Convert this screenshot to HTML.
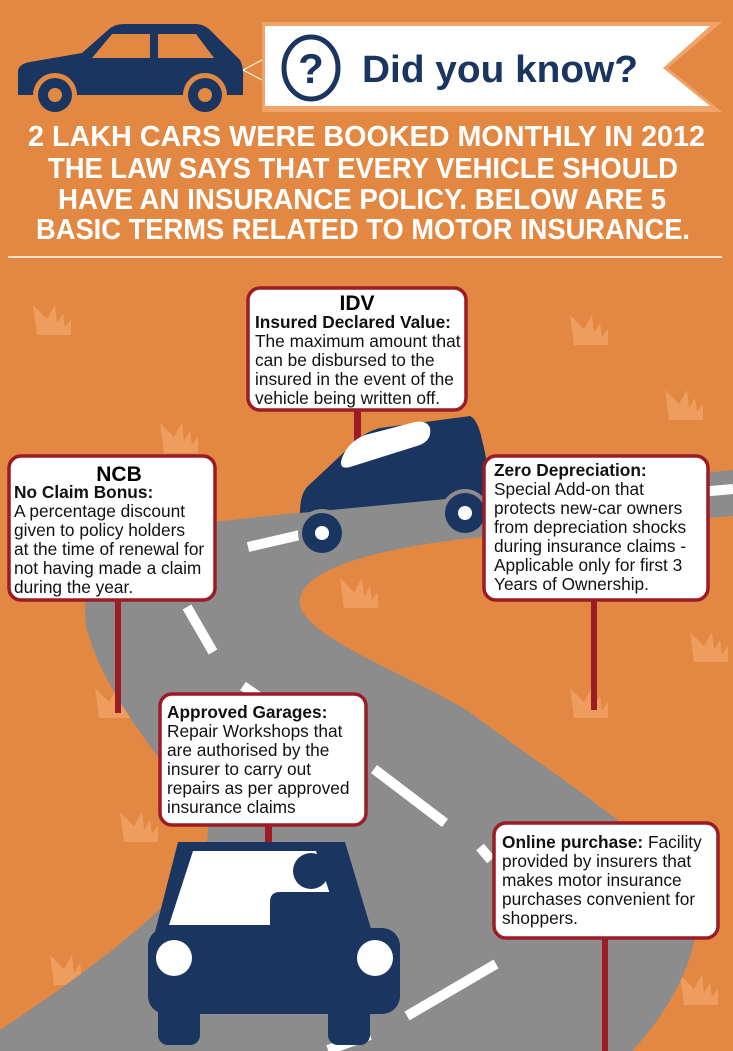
<!DOCTYPE html>
<html><head><meta charset="utf-8"><style>
html,body{margin:0;padding:0;background:#e38843}
svg{display:block}
.t{font-family:"Liberation Sans",sans-serif;font-size:17.3px;fill:#111}
.b{font-weight:bold}
</style></head><body>
<svg width="733" height="1051" viewBox="0 0 733 1051" xmlns="http://www.w3.org/2000/svg">
<defs>
<path id="tuft" d="M0,0 L14,14 L22,0 L24,18 L30,8 L32,22 L38,14 L38,30 L4,30 Z" fill="#ee9d5f"/>
</defs>
<rect width="733" height="1051" fill="#e38843"/>
<use href="#tuft" x="33" y="305"/>
<use href="#tuft" x="160" y="423"/>
<use href="#tuft" x="570" y="315"/>
<use href="#tuft" x="665" y="390"/>
<use href="#tuft" x="340" y="578"/>
<use href="#tuft" x="690" y="632"/>
<use href="#tuft" x="95" y="688"/>
<use href="#tuft" x="570" y="688"/>
<use href="#tuft" x="120" y="812"/>
<use href="#tuft" x="50" y="955"/>
<use href="#tuft" x="680" y="975"/>
<path d="M733,470 L560,488 C420,500 300,512 215,522 C110,540 70,580 90,640 C110,700 160,760 200,810 C240,860 120,950 0,1030 L0,1051 L632,1051 C680,1000 710,930 690,895 C660,840 560,780 468,711 C400,670 310,640 300,605 C295,565 400,545 482,537 L733,516 Z" fill="#8c8c8c"/>
<g stroke="#fff" stroke-width="10" fill="none">
<line x1="700" y1="492" x2="733" y2="489"/>
<line x1="248" y1="547" x2="300" y2="535"/>
<line x1="187" y1="607" x2="213" y2="652"/>
<line x1="243" y1="686" x2="262" y2="699"/>
<line x1="374" y1="769" x2="445" y2="823"/>
<line x1="480" y1="847" x2="491" y2="860"/>
<line x1="407" y1="1016" x2="496" y2="964"/>
<line x1="328" y1="1050" x2="370" y2="1035"/>
</g>
<g fill="#1a355f">
<path d="M18,72 Q18,64 30,62 L82,53 L108,30 Q114,24 125,24 L195,24 Q205,24 212,32 L240,60 Q244,67 243,80 L243,95 L18,95 Z"/>
</g>
<path d="M92,58 L112,34 L150,34 L150,58 Z M158,34 L196,34 L214,58 L158,58 Z" fill="#e38843"/>
<circle cx="55" cy="95" r="22" fill="#e38843"/><circle cx="55" cy="95" r="17" fill="#1a355f"/><circle cx="55" cy="95" r="7" fill="#e38843"/>
<circle cx="205" cy="95" r="22" fill="#e38843"/><circle cx="205" cy="95" r="17" fill="#1a355f"/><circle cx="205" cy="95" r="7" fill="#e38843"/>
<path d="M243,70 L262,60 M243,70 L262,80" stroke="#fff" stroke-width="1"/>
<path d="M262,22 L722,22 L668,68 L722,112 L262,112 Z" fill="#f0a46a"/>
<path d="M265,26 L710,26 L663,68 L710,106 L265,106 Z" fill="#fff"/>
<ellipse cx="311" cy="68" rx="27" ry="31" fill="none" stroke="#1a355f" stroke-width="5"/>
<text x="311" y="83" text-anchor="middle" font-family="Liberation Sans" font-weight="bold" font-size="42" fill="#1a355f">?</text>
<text x="362" y="82" font-family="Liberation Sans" font-weight="bold" font-size="38" fill="#1a355f" textLength="276" lengthAdjust="spacingAndGlyphs">Did you know?</text>
<g font-family="Liberation Sans" font-weight="bold" font-size="29" fill="#fff">
<text x="28" y="146" textLength="677" lengthAdjust="spacingAndGlyphs">2 LAKH CARS WERE BOOKED MONTHLY IN 2012</text>
<text x="48" y="178" textLength="630" lengthAdjust="spacingAndGlyphs">THE LAW SAYS THAT EVERY VEHICLE SHOULD</text>
<text x="58" y="209" textLength="608" lengthAdjust="spacingAndGlyphs">HAVE AN INSURANCE POLICY. BELOW ARE 5</text>
<text x="36" y="239" textLength="654" lengthAdjust="spacingAndGlyphs">BASIC TERMS RELATED TO MOTOR INSURANCE.</text>
</g>
<line x1="8" y1="257" x2="722" y2="257" stroke="#fff" stroke-width="1.5"/>
<g fill="#9b1c24">
<rect x="354" y="408" width="7" height="40"/>
<rect x="115" y="598" width="6" height="115"/>
<rect x="591" y="598" width="6" height="112"/>
<rect x="265" y="823" width="7" height="25"/>
<rect x="602" y="936" width="6" height="115"/>
</g>
<path d="M470,416 L380,428 Q365,432 355,442 L307,487 Q300,495 300,513 L488,495 Q490,470 482,440 Q478,420 470,416 Z" fill="#1a355f"/>
<path d="M342,458 Q338,470 350,467 L420,445 Q432,440 430,428 Q427,420 415,422 L365,435 Q348,442 342,458 Z" fill="#fff"/>
<circle cx="322" cy="533" r="24" fill="#8c8c8c"/><circle cx="322" cy="533" r="20" fill="#1a355f"/><circle cx="322" cy="533" r="7" fill="#fff"/>
<circle cx="465" cy="513" r="24" fill="#8c8c8c"/><circle cx="465" cy="513" r="20" fill="#1a355f"/><circle cx="465" cy="513" r="7" fill="#fff"/>
<g fill="#1a355f">
<path d="M178,842 L345,842 L372,932 L155,932 Z"/>
<rect x="148" y="928" width="252" height="86" rx="18"/>
<rect x="158" y="990" width="42" height="55" rx="10"/>
<rect x="328" y="990" width="42" height="55" rx="10"/>
</g>
<path d="M193,851 L316,851 L340,925 L169,925 Z" fill="#fff"/>
<circle cx="311" cy="871" r="18" fill="#1a355f"/>
<path d="M270,925 L270,902 Q270,892 280,892 L342,892 Q352,892 352,902 L352,925 Z" fill="#1a355f"/>
<circle cx="174" cy="958" r="18" fill="#fff"/><circle cx="375" cy="958" r="18" fill="#fff"/>
<g fill="#fff" stroke="#9b1c24" stroke-width="3.5">
<rect x="248" y="288" width="218" height="122" rx="12"/>
<rect x="9" y="456" width="206" height="144" rx="12"/>
<rect x="484" y="456" width="224" height="144" rx="12"/>
<rect x="160" y="694" width="206" height="131" rx="12"/>
<rect x="494" y="823" width="224" height="115" rx="12"/>
</g>
<text x="357" y="310" text-anchor="middle" font-family="Liberation Sans" font-weight="bold" font-size="21">IDV</text>
<text class="t b" x="255" y="328">Insured Declared Value:</text>
<text class="t" x="255" y="347">The maximum amount that</text>
<text class="t" x="255" y="366">can be disbursed to the</text>
<text class="t" x="255" y="385">insured in the event of the</text>
<text class="t" x="255" y="404">vehicle being written off.</text>

<text x="119" y="481" text-anchor="middle" font-family="Liberation Sans" font-weight="bold" font-size="21">NCB</text>
<text class="t b" x="14" y="498">No Claim Bonus:</text>
<text class="t" x="14" y="517">A percentage discount</text>
<text class="t" x="14" y="536">given to policy holders</text>
<text class="t" x="14" y="555">at the time of renewal for</text>
<text class="t" x="14" y="574">not having made a claim</text>
<text class="t" x="14" y="593">during the year.</text>

<text class="t b" x="494" y="476">Zero Depreciation:</text>
<text class="t" x="494" y="495">Special Add-on that</text>
<text class="t" x="494" y="514">protects new-car owners</text>
<text class="t" x="494" y="533">from depreciation shocks</text>
<text class="t" x="494" y="552">during insurance claims -</text>
<text class="t" x="494" y="571">Applicable only for first 3</text>
<text class="t" x="494" y="590">Years of Ownership.</text>

<text class="t b" x="167" y="718">Approved Garages:</text>
<text class="t" x="167" y="737">Repair Workshops that</text>
<text class="t" x="167" y="756">are authorised by the</text>
<text class="t" x="167" y="775">insurer to carry out</text>
<text class="t" x="167" y="794">repairs as per approved</text>
<text class="t" x="167" y="813">insurance claims</text>

<text class="t" x="502" y="848"><tspan class="b">Online purchase:</tspan> Facility</text>
<text class="t" x="502" y="867">provided by insurers that</text>
<text class="t" x="502" y="886">makes motor insurance</text>
<text class="t" x="502" y="905">purchases convenient for</text>
<text class="t" x="502" y="924">shoppers.</text>
</svg>
</body></html>
